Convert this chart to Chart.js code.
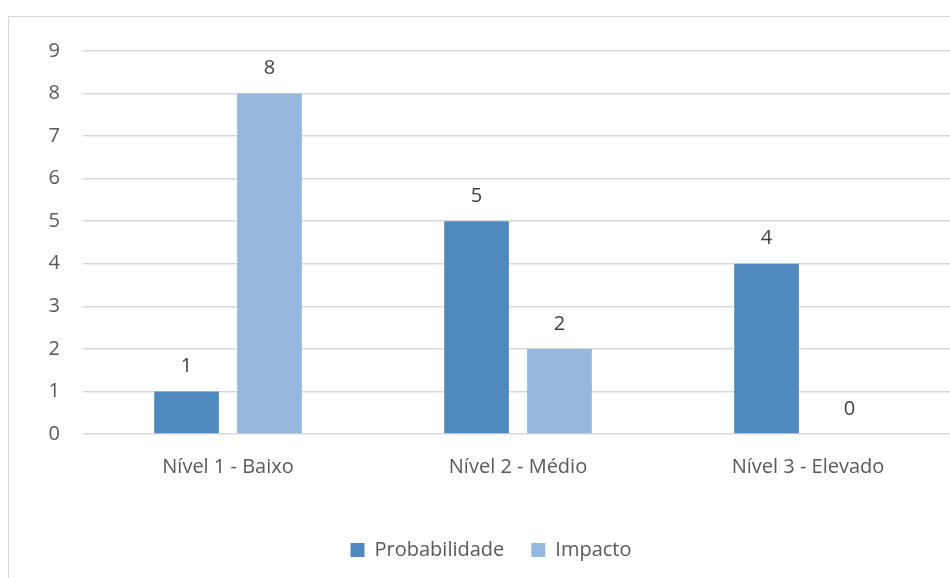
<!DOCTYPE html>
<html>
<head>
<meta charset="utf-8">
<script src="https://cdn.jsdelivr.net/npm/chart.js@4/dist/chart.umd.min.js"></script>
<style>
  body { margin: 0; background: #fff; }
  #wrap { position: relative; width: 950px; height: 578px; overflow: hidden; background: #fff; }
  #frame { position: absolute; left: 8px; top: 16px; width: 1000px; height: 700px; border: 1.5px solid #d9d9d9; box-sizing: border-box; }
  #grafico { position: absolute; left: 0; top: 0; }
</style>
</head>
<body>
<div id="wrap">
  <div id="frame"></div>
  <canvas id="grafico" width="960" height="578"></canvas>
</div>
<script>
const niveis = ["Nível 1 - Baixo", "Nível 2 - Médio", "Nível 3 - Elevado"];
const probabilidade = [1, 5, 4];
const impacto = [8, 2, 0];
const yTicks = [0, 1, 2, 3, 4, 5, 6, 7, 8, 9];

document.addEventListener('DOMContentLoaded', function () {
    Chart.defaults.font.family = "'Open Sans', sans-serif";
    Chart.defaults.font.size = 20;
    Chart.defaults.color = "#595959";

    // escreve o valor por cima de cada barra
    const rotulos = {
        id: 'rotulos',
        afterDatasetsDraw(chart) {
            const ctx = chart.ctx;
            ctx.save();
            ctx.font = "20px 'Open Sans', sans-serif";
            ctx.fillStyle = "#404040";
            ctx.textAlign = "center";
            ctx.textBaseline = "middle";
            chart.data.datasets.forEach(function (ds, i) {
                chart.getDatasetMeta(i).data.forEach(function (bar, j) {
                    ctx.fillText(ds.data[j], bar.x, bar.y - 25);
                });
            });
            ctx.restore();
        }
    };

    new Chart("grafico", {
        type: "bar",
        data: {
            labels: niveis,
            datasets: [{
                label: "Probabilidade",
                data: probabilidade,
                backgroundColor: "#4f89bd"
            }, {
                label: "Impacto",
                data: impacto,
                backgroundColor: "#95b8df"
            }]
        },
        options: {
            responsive: false,
            animation: false,
            categoryPercentage: 0.572,
            barPercentage: 0.78,
            layout: { padding: { top: 51, right: 7, left: 29, bottom: 8 } },
            plugins: {
                tooltip: { enabled: false },
                legend: {
                    position: "bottom",
                    labels: {
                        boxWidth: 14,
                        boxHeight: 14,
                        padding: 27,
                        color: "#595959"
                    }
                }
            },
            scales: {
                x: {
                    grid: { display: false },
                    border: { display: false },
                    ticks: { padding: 13, color: "#595959" },
                    afterFit(s) { s.height = 79; }
                },
                y: {
                    min: 0,
                    max: 9,
                    afterBuildTicks(s) { s.ticks = yTicks.map(v => ({ value: v })); },
                    grid: { color: "#d9d9d9", lineWidth: 1.5, drawTicks: false },
                    border: { display: false },
                    ticks: { padding: 23, color: "#595959" },
                    afterFit(s) { s.width = 54; }
                }
            }
        },
        plugins: [rotulos]
    });
});
</script>
</body>
</html>
